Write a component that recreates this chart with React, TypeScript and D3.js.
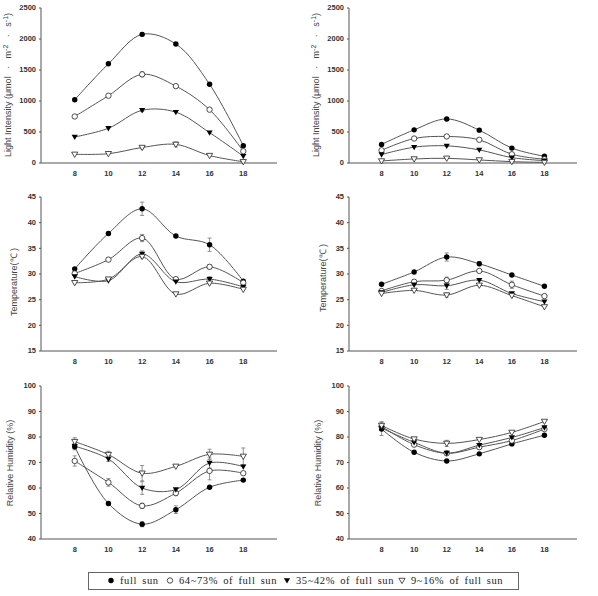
import * as d3 from "d3";

// hours of the day
const hours = [8, 10, 12, 14, 16, 18];

// light intensity (µmol m-2 s-1)
const lightA_full = [1020, 1600, 2075, 1920, 1270, 280];
const lightA_64 = [750, 1085, 1430, 1240, 860, 190];
const lightA_35 = [420, 560, 850, 820, 490, 110];
const lightA_9 = [140, 150, 250, 300, 120, 20];
const lightB_full = [300, 535, 710, 530, 240, 108];
const lightB_64 = [205, 395, 428, 374, 141, 60];
const lightB_35 = [136, 255, 277, 211, 87, 38];
const lightB_9 = [33, 65, 76, 49, 22, 10];

// temperature (°C)
const tempA_full = [31.0, 37.9, 42.7, 37.4, 35.7, 28.6];
const tempA_64 = [30.1, 32.8, 37.0, 29.0, 31.4, 28.3];
const tempA_35 = [29.5, 28.7, 33.9, 28.5, 29.0, 27.5];
const tempA_9 = [28.3, 29.0, 33.4, 26.1, 28.2, 27.0];
const tempB_full = [28.0, 30.4, 33.3, 32.0, 29.8, 27.6];
const tempB_64 = [26.7, 28.5, 28.8, 30.6, 27.9, 25.7];
const tempB_35 = [26.4, 27.9, 27.7, 28.8, 26.2, 24.6];
const tempB_9 = [26.2, 26.8, 25.9, 27.8, 25.8, 23.6];

// relative humidity (%)
const rhA_full = [76.2, 53.9, 45.8, 51.5, 60.3, 63.1];
const rhA_64 = [70.6, 62.2, 53.0, 58.0, 66.7, 65.8];
const rhA_35 = [76.4, 71.4, 60.0, 59.4, 69.8, 68.4];
const rhA_9 = [78.2, 73.1, 65.8, 68.5, 73.2, 72.4];
const rhB_full = [83.1, 74.0, 70.6, 73.4, 77.3, 80.7];
const rhB_64 = [84.1, 77.0, 73.6, 76.0, 78.6, 83.1];
const rhB_35 = [83.5, 77.9, 73.7, 76.8, 79.8, 83.7];
const rhB_9 = [84.5, 79.2, 77.5, 79.0, 81.8, 86.1];

// standard errors
const lightA_err = [[0, 0, 30, 25, 0, 0], [0, 0, 40, 0, 0, 0], [0, 0, 20, 0, 0, 0], [0, 0, 20, 40, 0, 0]];
const lightB_err = [[0, 0, 10, 0, 0, 0], [0, 0, 0, 0, 0, 0], [0, 0, 10, 0, 0, 0], [0, 0, 0, 0, 0, 0]];
const tempA_err = [[0, 0.3, 1.3, 0, 1.3, 0], [0, 0, 0.7, 0, 0.4, 0], [0, 0, 0.6, 0, 0.5, 0], [0, 0, 0.3, 0, 0, 0]];
const tempB_err = [[0, 0, 0.8, 0.4, 0, 0], [0, 0, 0.6, 0, 0.7, 0], [0, 0, 0.7, 0, 0, 0], [0, 0, 0.4, 0, 0, 0]];
const rhA_err = [[1.2, 0, 1.0, 1.5, 0, 0], [2.0, 1.5, 1.0, 1.0, 3.5, 0], [1.0, 1.0, 2.5, 0, 2.0, 0], [1.5, 1.3, 3.0, 0, 2.0, 3.3]];
const rhB_err = [[2.5, 0, 0, 0, 0, 0], [0, 0, 0, 0, 0, 0], [0, 0, 0, 0, 0, 0], [1.5, 0, 1.2, 0, 0, 0]];

const legendLabels = ["full sun", "64~73% of full sun", "35~42% of full sun", "9~16% of full sun"];
const markers = ["dot", "circle", "tri", "otri"];

type Panel = {
  x0: number; x1: number; top: number; bottom: number;
  domain: [number, number]; ticks: number[];
  series: number[][]; errors: number[][];
  title: string; titleX: number; titleY: number;
};

const lightTicks = [0, 500, 1000, 1500, 2000, 2500];
const tempTicks = [15, 20, 25, 30, 35, 40, 45];
const rhTicks = [40, 50, 60, 70, 80, 90, 100];

const L = { x0: 41, x1: 277 };
const R = { x0: 349, x1: 577 };

const panels: Panel[] = [
  { ...L, top: 8, bottom: 163, domain: [0, 2500], ticks: lightTicks, series: [lightA_full, lightA_64, lightA_35, lightA_9], errors: lightA_err, title: "light", titleX: 11, titleY: 85 },
  { ...R, top: 8, bottom: 163, domain: [0, 2500], ticks: lightTicks, series: [lightB_full, lightB_64, lightB_35, lightB_9], errors: lightB_err, title: "light", titleX: 319, titleY: 85 },
  { ...L, top: 197, bottom: 351, domain: [15, 45], ticks: tempTicks, series: [tempA_full, tempA_64, tempA_35, tempA_9], errors: tempA_err, title: "Temperature(℃ )", titleX: 17, titleY: 282 },
  { ...R, top: 197, bottom: 351, domain: [15, 45], ticks: tempTicks, series: [tempB_full, tempB_64, tempB_35, tempB_9], errors: tempB_err, title: "Temperature(℃ )", titleX: 326, titleY: 278 },
  { ...L, top: 386, bottom: 539, domain: [40, 100], ticks: rhTicks, series: [rhA_full, rhA_64, rhA_35, rhA_9], errors: rhA_err, title: "Relative Humidity (%)", titleX: 13, titleY: 463 },
  { ...R, top: 386, bottom: 539, domain: [40, 100], ticks: rhTicks, series: [rhB_full, rhB_64, rhB_35, rhB_9], errors: rhB_err, title: "Relative Humidity (%)", titleX: 321, titleY: 463 },
];

const axisColor = "#555";
const tickFont = "'Liberation Sans', Arial, sans-serif";

function Marker({ kind, x, y }: { kind: string; x: number; y: number }) {
  const r = 2.7;
  if (kind === "dot") return <circle cx={x} cy={y} r={r} fill="#000" />;
  if (kind === "circle") return <circle cx={x} cy={y} r={r} fill="#fff" stroke="#222" strokeWidth={0.8} />;
  const tri = `M${x - 3.1},${y - 2.2}L${x + 3.1},${y - 2.2}L${x},${y + 3.1}Z`;
  if (kind === "tri") return <path d={tri} fill="#000" />;
  return <path d={tri} fill="#fff" stroke="#222" strokeWidth={0.8} />;
}

function Chart({ p }: { p: Panel }) {
  const x = d3.scaleLinear().domain([6, 20]).range([p.x0, p.x1]);
  const y = d3.scaleLinear().domain(p.domain).range([p.bottom, p.top]);
  const line = d3
    .line<number>()
    .x((_, i) => x(hours[i]))
    .y((d) => y(d))
    .curve(d3.curveCatmullRom.alpha(0.5));

  return (
    <g>
      {/* axes */}
      <line x1={p.x0} x2={p.x0} y1={p.top} y2={p.bottom} stroke={axisColor} strokeWidth={1} />
      <line x1={p.x0} x2={p.x1} y1={p.bottom} y2={p.bottom} stroke={axisColor} strokeWidth={1} />
      {p.ticks.map((t) => (
        <g key={t}>
          <line x1={p.x0 - 2} x2={p.x0} y1={y(t)} y2={y(t)} stroke={axisColor} />
          <text x={p.x0 - 5} y={y(t)} dy="0.33em" textAnchor="end" fontSize={7.5} fontWeight="bold" fill="#333" fontFamily={tickFont}>
            {t}
          </text>
        </g>
      ))}
      {hours.map((h) => (
        <text key={h} x={x(h)} y={p.bottom + 13} textAnchor="middle" fontSize={7.5} fontWeight="bold" fill="#333" fontFamily={tickFont}>
          {h}
        </text>
      ))}
      {/* y title */}
      <text
        transform={`translate(${p.titleX},${p.titleY}) rotate(-90)`}
        textAnchor="middle"
        fontSize={9}
        fill="#444"
        fontFamily={tickFont}
        style={{ whiteSpace: "pre" }}
      >
        {p.title === "light" ? (
          <>
            {"Light Intensity (μmol   ·   m"}
            <tspan dy={-3.5} fontSize={7}>-2</tspan>
            <tspan dy={3.5}>{"   ·   s"}</tspan>
            <tspan dy={-3.5} fontSize={7}>-1</tspan>
            <tspan dy={3.5}>)</tspan>
          </>
        ) : (
          p.title
        )}
      </text>
      {/* lines */}
      {p.series.map((s, k) => (
        <path key={k} d={line(s) || ""} fill="none" stroke="#555" strokeWidth={1} />
      ))}
      {/* error bars */}
      {p.series.map((s, k) =>
        s.map((v, i) => {
          const e = p.errors[k][i];
          if (!e) return null;
          const cx = x(hours[i]);
          return (
            <g key={`${k}-${i}`} stroke="#777" strokeWidth={0.8}>
              <line x1={cx} x2={cx} y1={y(v - e)} y2={y(v + e)} />
              <line x1={cx - 2} x2={cx + 2} y1={y(v - e)} y2={y(v - e)} />
              <line x1={cx - 2} x2={cx + 2} y1={y(v + e)} y2={y(v + e)} />
            </g>
          );
        })
      )}
      {/* markers */}
      {p.series.map((s, k) =>
        s.map((v, i) => <Marker key={`m${k}-${i}`} kind={markers[k]} x={x(hours[i])} y={y(v)} />)
      )}
    </g>
  );
}

function Legend() {
  const itemX = [111, 170, 287, 402];
  const cy = 580.5;
  return (
    <g>
      <rect x={88.5} y={572.5} width={430} height={17} fill="#fff" stroke="#666" strokeWidth={1} />
      {legendLabels.map((lab, i) => (
        <g key={lab}>
          <Marker kind={markers[i]} x={itemX[i]} y={cy} />
          <text x={itemX[i] + 9} y={cy} dy="0.35em" fontSize={10.5} fill="#222" fontFamily="'Liberation Serif', serif" letterSpacing={0.6} wordSpacing={2}>
            {lab}
          </text>
        </g>
      ))}
    </g>
  );
}

export default function App() {
  return (
    <svg width={598} height={596} style={{ position: "absolute", left: 0, top: 0, background: "#fff" }}>
      <rect width={598} height={596} fill="#fff" />
      {panels.map((p, i) => (
        <Chart key={i} p={p} />
      ))}
      <Legend />
    </svg>
  );
}
